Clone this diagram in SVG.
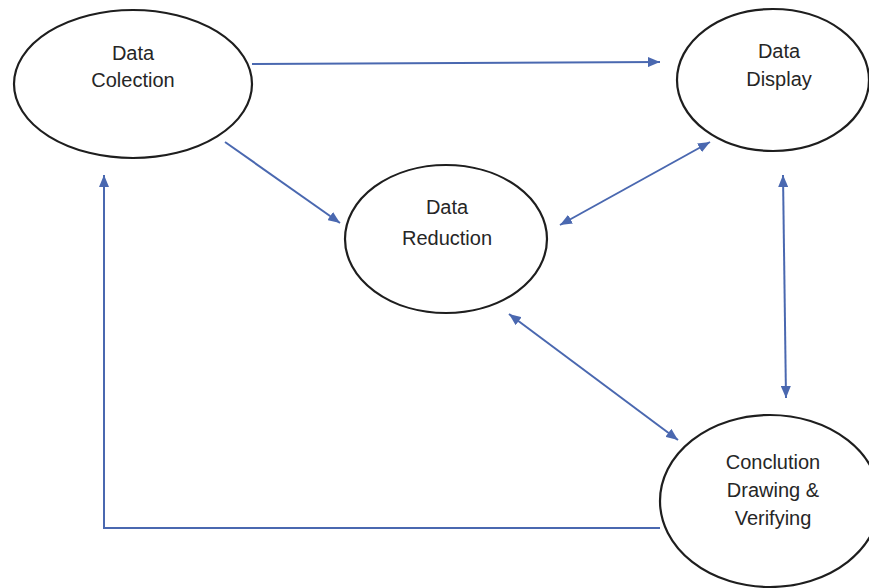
<svg xmlns="http://www.w3.org/2000/svg" width="869" height="588" viewBox="0 0 869 588">
<defs>
<style>
.node ellipse{fill:#fff;stroke:#1e1e1e;stroke-width:2.2}
.node text{font-family:"Liberation Sans",Arial,sans-serif;font-size:20px;fill:#262626;text-anchor:middle}
.conn path,.conn line,.conn polyline{fill:none;stroke:#4a68b0;stroke-width:2}
</style>
<marker id="ah" viewBox="0 0 12 10" refX="12" refY="5" markerWidth="12" markerHeight="10" markerUnits="userSpaceOnUse" orient="auto-start-reverse">
<path d="M0,0 L12,5 L0,10 z" fill="#4a68b0"/>
</marker>
</defs>
<rect width="869" height="588" fill="#fff"/>
<g id="connectors" class="conn">
<line x1="252" y1="64" x2="660" y2="62" marker-end="url(#ah)"/>
<line x1="225" y1="142" x2="340" y2="223" marker-end="url(#ah)"/>
<line x1="560" y1="225" x2="710" y2="142" marker-start="url(#ah)" marker-end="url(#ah)"/>
<line x1="783" y1="175" x2="786" y2="398" marker-start="url(#ah)" marker-end="url(#ah)"/>
<line x1="509" y1="314" x2="678" y2="440" marker-start="url(#ah)" marker-end="url(#ah)"/>
<polyline points="660,528 104,528 104,175" marker-end="url(#ah)"/>
</g>
<g id="data-collection" class="node">
<ellipse cx="133" cy="84" rx="119" ry="74"/>
<text x="133" y="60">Data</text>
<text x="133" y="87">Colection</text>
</g>
<g id="data-display" class="node">
<ellipse cx="773" cy="80" rx="96" ry="71"/>
<text x="779" y="58">Data</text>
<text x="779" y="86">Display</text>
</g>
<g id="data-reduction" class="node">
<ellipse cx="446" cy="239" rx="101" ry="74"/>
<text x="447" y="214">Data</text>
<text x="447" y="245">Reduction</text>
</g>
<g id="conclusion" class="node">
<ellipse cx="770" cy="501" rx="110" ry="86"/>
<text x="773" y="469">Conclution</text>
<text x="773" y="497">Drawing &amp;</text>
<text x="773" y="525">Verifying</text>
</g>
</svg>
